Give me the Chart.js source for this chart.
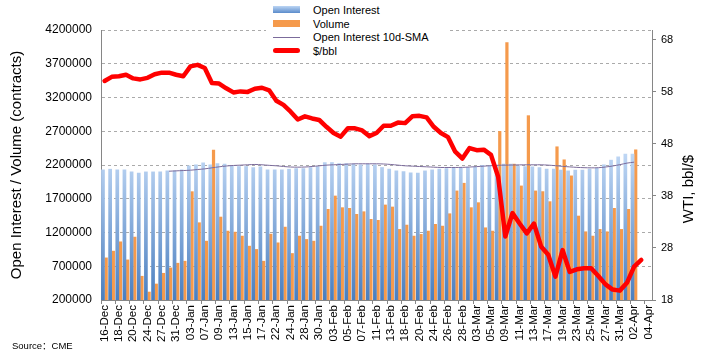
<!DOCTYPE html>
<html>
<head>
<meta charset="utf-8">
<script src="https://cdn.jsdelivr.net/npm/chart.js@4.4.1/dist/chart.umd.min.js"></script>
<style>
  html, body { margin: 0; padding: 0; background: #fff; }
  #wrap { position: relative; width: 704px; height: 361px; }
  #legend {
    position: absolute; left: 266px; top: 3px; width: 184px; height: 56px;
    background: #fff; font: 11px "Liberation Sans", Arial, sans-serif; color: #000;
  }
  .item { height: 13.7px; display: flex; align-items: center; white-space: nowrap; }
  .sw { width: 27px; margin-left: 7px; margin-right: 13px; }
  #source {
    position: absolute; left: 12px; top: 338px;
    font: 9.5px "Liberation Sans", Arial, "Noto Sans CJK SC", sans-serif; color: #000;
  }
</style>
</head>
<body>
<div id="wrap">
  <canvas id="oilChart" width="704" height="361"></canvas>
  <div id="legend">
    <div class="item"><span class="sw" style="height:7px;background:linear-gradient(#bcd5f4,#5b8ccb)"></span>Open Interest</div>
    <div class="item"><span class="sw" style="height:7px;background:#f59a4c"></span>Volume</div>
    <div class="item"><span class="sw" style="height:1px;background:#7b6b9b"></span>Open Interest 10d-SMA</div>
    <div class="item"><span class="sw" style="height:5px;border-radius:3px;background:#ff0000"></span>$/bbl</div>
  </div>
  <div id="source">Source：CME</div>
</div>
<script>
const categories = [
  '16-Dec','17-Dec','18-Dec','19-Dec','20-Dec','23-Dec','24-Dec','26-Dec','27-Dec','30-Dec','31-Dec',
  '02-Jan','03-Jan','06-Jan','07-Jan','08-Jan','09-Jan','10-Jan','13-Jan','14-Jan','15-Jan','16-Jan',
  '17-Jan','21-Jan','22-Jan','23-Jan','24-Jan','27-Jan','28-Jan','29-Jan','30-Jan','31-Jan',
  '03-Feb','04-Feb','05-Feb','06-Feb','07-Feb','10-Feb','11-Feb','12-Feb','13-Feb','14-Feb','18-Feb',
  '19-Feb','20-Feb','21-Feb','24-Feb','25-Feb','26-Feb','27-Feb','28-Feb',
  '02-Mar','03-Mar','04-Mar','05-Mar','06-Mar','09-Mar','10-Mar','11-Mar','12-Mar','13-Mar','16-Mar',
  '17-Mar','18-Mar','19-Mar','20-Mar','23-Mar','24-Mar','25-Mar','26-Mar','27-Mar','30-Mar','31-Mar',
  '01-Apr','02-Apr','03-Apr','04-Apr'
];

const openInterest = [
  2133000, 2143000, 2133000, 2133000, 2103000, 2084000, 2103000, 2103000, 2103000, 2118000,
  2118000, 2133000, 2193000, 2208000, 2237000, 2208000, 2227000, 2218000, 2193000, 2183000,
  2183000, 2168000, 2178000, 2133000, 2133000, 2133000, 2143000, 2153000, 2153000, 2168000,
  2183000, 2242000, 2242000, 2227000, 2227000, 2218000, 2208000, 2218000, 2208000, 2168000,
  2143000, 2118000, 2108000, 2090000, 2085000, 2118000, 2133000, 2143000, 2153000, 2158000,
  2168000, 2168000, 2178000, 2200000, 2193000, 2200000, 2218000, 2218000, 2190000, 2180000,
  2178000, 2168000, 2143000, 2143000, 2130000, 2118000, 2128000, 2128000, 2143000, 2155000,
  2208000, 2277000, 2326000, 2366000, 2366000
];

const volume = [
  829000, 929000, 1067000, 799000, 1137000, 557000, 323000, 442000, 601000, 680000,
  750000, 780000, 1810000, 1350000, 1077000, 2426000, 1434000, 1226000, 1211000, 1152000,
  1003000, 954000, 780000, 1181000, 1052000, 1285000, 894000, 1152000, 1102000, 1077000,
  1300000, 1548000, 1746000, 1573000, 1563000, 1474000, 1513000, 1400000, 1385000, 1613000,
  1583000, 1251000, 1315000, 1152000, 1177000, 1226000, 1326000, 1300000, 1483000, 1821000,
  1935000, 1573000, 1647000, 1275000, 1226000, 2703000, 4017000, 2218000, 1895000, 2936000,
  1821000, 1811000, 1662000, 2475000, 2282000, 2044000, 1449000, 1216000, 1152000, 1251000,
  1216000, 1563000, 1251000, 1548000, 2430000
];

const oiSma10 = [
  null, null, null, null, null, null, null, null, null,
  2108000, 2113000, 2118000, 2123000, 2133000, 2143000, 2158000, 2173000, 2185000, 2193000,
  2198000, 2203000, 2208000, 2203000, 2195000, 2188000, 2178000, 2170000, 2168000, 2170000,
  2178000, 2188000, 2198000, 2203000, 2208000, 2213000, 2218000, 2218000, 2218000, 2218000,
  2215000, 2208000, 2198000, 2188000, 2183000, 2178000, 2173000, 2168000, 2163000, 2163000,
  2163000, 2165000, 2170000, 2176000, 2183000, 2190000, 2196000, 2198000, 2200000, 2202000,
  2203000, 2203000, 2203000, 2198000, 2190000, 2180000, 2172000, 2165000, 2160000, 2158000,
  2160000, 2170000, 2185000, 2205000, 2228000, 2242000
];

const wtiPrice = [
  60.1, 60.9, 61.0, 61.3, 60.6, 60.4, 60.7, 61.4, 61.7, 61.7,
  61.3, 61.0, 62.9, 63.2, 62.6, 59.7, 59.6, 58.7, 57.9, 58.1,
  58.0, 58.6, 58.8, 58.3, 56.3, 55.5, 54.2, 52.7, 53.3, 52.9,
  52.6, 51.3, 50.1, 49.4, 51.0, 51.0, 50.6, 49.5, 50.1, 51.5,
  51.5, 52.1, 52.0, 53.3, 53.4, 53.1, 51.3, 50.1, 49.3, 46.5,
  45.2, 47.2, 46.8, 46.9, 45.9, 41.7, 30.2, 34.7, 32.7, 30.8,
  32.7, 28.3, 26.7, 22.5, 27.6, 23.4, 23.9, 24.1, 24.1, 22.6,
  21.0, 20.0, 19.8, 21.3, 24.4, 25.7
];

const rightTicks = [18, 28, 38, 48, 58, 68];

Chart.defaults.font.family = '"Liberation Sans", Arial, sans-serif';
Chart.defaults.color = '#000';

// blue bars get a vertical gradient like the Excel fill
function oiFill(c) {
  const area = c.chart.chartArea;
  if (!area) return '#8db3e2';
  const g = c.chart.ctx.createLinearGradient(0, area.bottom, 0, area.top + 125);
  g.addColorStop(0, '#4a7ebf');
  g.addColorStop(1, '#bed6f4');
  return g;
}

// right axis title reads bottom-to-top, chart.js would flip it
const rightTitle = {
  id: 'rightTitle',
  afterDraw(chart) {
    const c = chart.ctx;
    c.save();
    c.translate(689, 189);
    c.rotate(-Math.PI / 2);
    c.font = '15px "Liberation Sans", Arial, sans-serif';
    c.fillStyle = '#000';
    c.textAlign = 'center';
    c.textBaseline = 'middle';
    c.fillText('WTI, bbl/$', 0, 0);
    c.restore();
  }
};

const ctx = document.getElementById('oilChart').getContext('2d');
new Chart(ctx, {
  data: {
    labels: categories,
    datasets: [
      {
        type: 'line',
        label: '$/bbl',
        data: wtiPrice,
        yAxisID: 'y2',
        borderColor: '#ff0000',
        borderWidth: 4.5,
        borderJoinStyle: 'round',
        borderCapStyle: 'round',
        pointRadius: 0,
        tension: 0,
        order: 0
      },
      {
        type: 'line',
        label: 'Open Interest 10d-SMA',
        data: oiSma10,
        yAxisID: 'y',
        borderColor: '#7b6b9b',
        borderWidth: 1,
        pointRadius: 0,
        tension: 0.3,
        order: 1
      },
      {
        type: 'bar',
        label: 'Open Interest',
        data: openInterest,
        yAxisID: 'y',
        backgroundColor: oiFill,
        barPercentage: 1.15,
        categoryPercentage: 0.9,
        order: 2
      },
      {
        type: 'bar',
        label: 'Volume',
        data: volume,
        yAxisID: 'y',
        backgroundColor: '#f59a4c',
        barPercentage: 1.0,
        categoryPercentage: 0.9,
        order: 3
      }
    ]
  },
  options: {
    responsive: false,
    animation: false,
    layout: { padding: { top: 30, left: 0, right: 0, bottom: 0 } },
    plugins: {
      legend: { display: false },
      tooltip: { enabled: false }
    },
    scales: {
      x: {
        offset: true,
        grid: {
          offset: true,
          drawOnChartArea: false,
          tickLength: 4,
          color: c => (c.index % 2 === 0 ? '#868686' : 'rgba(0,0,0,0)')
        },
        border: { color: '#868686' },
        ticks: {
          autoSkip: false,
          maxRotation: 90,
          minRotation: 90,
          padding: 1,
          font: { size: 11.5 },
          color: '#000',
          callback: (v, i) => (i % 2 === 0 ? categories[i] : '')
        },
        afterFit: s => { s.height = 61; }
      },
      y: {
        position: 'left',
        min: 200000,
        max: 4200000,
        grid: { color: '#aaaaaa', drawTicks: false },
        border: { color: '#868686', dash: [3, 3] },
        ticks: {
          stepSize: 500000,
          padding: 9,
          font: { size: 12 },
          color: '#000',
          callback: v => String(v)
        },
        title: {
          display: true,
          text: 'Open Interest / Volume (contracts)',
          font: { size: 15 },
          color: '#000',
          padding: { top: 8, bottom: 0 }
        },
        afterFit: s => { s.width = 101; }
      },
      y2: {
        position: 'right',
        min: 18,
        max: 69.9,
        grid: { drawOnChartArea: false, tickLength: 4, color: '#868686' },
        border: { color: '#868686' },
        ticks: { padding: 5, font: { size: 11 }, color: '#000' },
        afterBuildTicks: s => { s.ticks = rightTicks.map(v => ({ value: v })); },
        afterFit: s => { s.width = 52; }
      }
    }
  },
  plugins: [rightTitle]
});
</script>
</body>
</html>
